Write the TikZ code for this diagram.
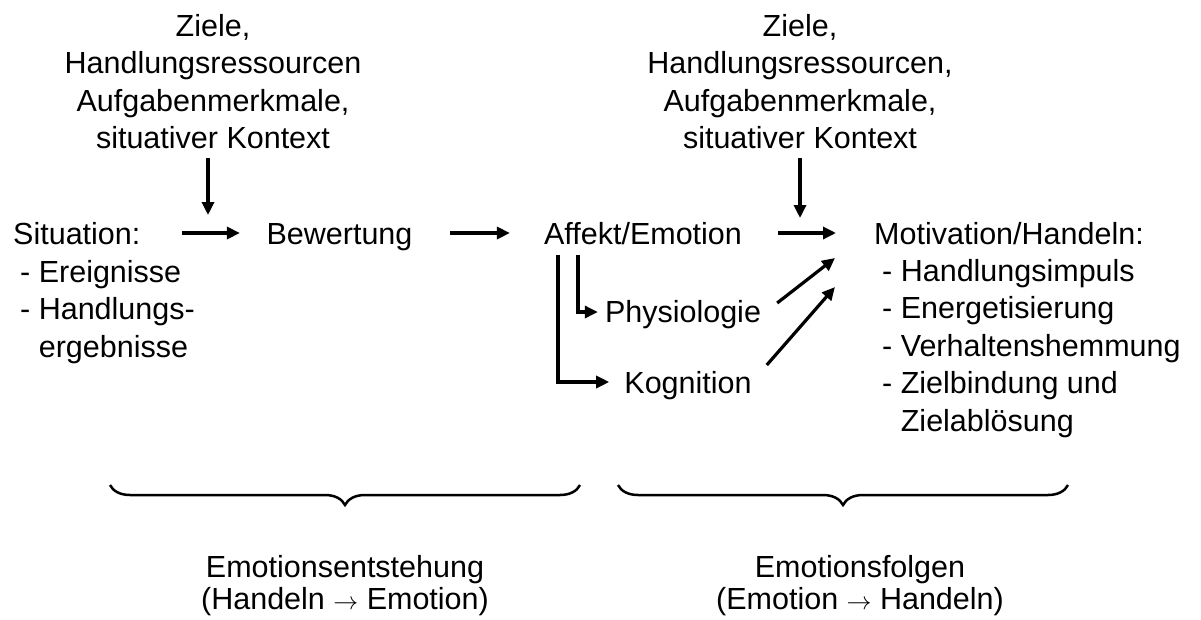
\documentclass[tikz,border=0pt]{standalone}
\usepackage{fontspec}
\setmainfont{Liberation Sans}
\usetikzlibrary{arrows.meta}
\usetikzlibrary{positioning}
\usetikzlibrary{decorations.pathreplacing}

\begin{document}
\begin{tikzpicture}[x=1pt,y=-1pt,>={Triangle[length=13pt,width=12pt]},
	every node/.style={inner sep=0pt,font=\fontsize{30.5}{37.5}\selectfont},
	arr/.style={->,line width=3.2pt},
	list node/.style={align=left,anchor=base west},
	ctx node/.style={align=center,anchor=base},
	label node/.style={align=center,anchor=base,font=\fontsize{30.5}{32}\selectfont},
	group brace/.style={decorate,decoration={brace,mirror,amplitude=20pt},line width=2.5pt}]

	\useasboundingbox (0,0) rectangle (1201,619);

	% context above (base = last line)
	\node[ctx node] (ctxL) at (213,148.5) {Ziele,\\Handlungsressourcen\\Aufgabenmerkmale,\\situativer Kontext};
	\node[ctx node] (ctxR) at (800,148.5) {Ziele,\\Handlungsressourcen,\\Aufgabenmerkmale,\\situativer Kontext};
	\coordinate (inL) at (208,215);
	\coordinate (inR) at (800,218);

	% main row
	\node (sit) at (13,244) [anchor=base west] {Situation:};
	\node[list node] (sitlist) at (20,357) {- Ereignisse\\- Handlungs-\\\phantom{- }ergebnisse};
	\node (bew) at (339.5,244) [anchor=base] {Bewertung};
	\node (aff) at (643,244) [anchor=base] {Affekt/Emotion};
	\node (phy) at (683,322) [anchor=base] {Physiologie};
	\node (kog) at (688,393) [anchor=base] {Kognition};
	\node (mot) at (874,244) [anchor=base west] {Motivation/Handeln:};
	\node[list node] (motlist) at (882,431) {- Handlungsimpuls\\- Energetisierung\\- Verhaltenshemmung\\- Zielbindung und\\\phantom{- }Zielablösung};

	\draw[arr,shorten <=9pt] (ctxL.south -| inL) -- (inL);
	\draw[arr,shorten <=9pt] (ctxR.south -| inR) -- (inR);
	\draw[arr] ([xshift=41pt,yshift=11pt]sit.base east) -- ([xshift=-26.5pt,yshift=11pt]bew.base west);
	\draw[arr] ([xshift=37.5pt,yshift=11pt]bew.base east) -- ([xshift=-34pt,yshift=11pt]aff.base west);
	\draw[arr] ([xshift=36pt,yshift=11pt]aff.base east) -- ([xshift=-38pt,yshift=11pt]mot.base west);
	\draw[arr] ([xshift=14pt,yshift=-11pt]aff.base west) |- ([xshift=-15pt,yshift=11pt]kog.base west);
	\draw[arr] ([xshift=34pt,yshift=-11pt]aff.base west) |- ([xshift=-7pt,yshift=10pt]phy.base west);
	\draw[arr] ([xshift=16pt,yshift=19pt]phy.base east) -- ([xshift=-39pt,yshift=-14pt]mot.base west);
	\draw[arr] ([xshift=15pt,yshift=28pt]kog.base east) -- ([xshift=-39pt,yshift=-43pt]mot.base west);

	% braces and what they stand for
	\draw[group brace] (110,485) -- (580,485);
	\draw[group brace] (618,485) -- (1068,485);
	\node[label node] (origin) at (345,609) {Emotionsentstehung\\(Handeln $\rightarrow$ Emotion)};
	\node[label node] (effects) at (860,609) {Emotionsfolgen\\(Emotion $\rightarrow$ Handeln)};

\end{tikzpicture}
\end{document}
